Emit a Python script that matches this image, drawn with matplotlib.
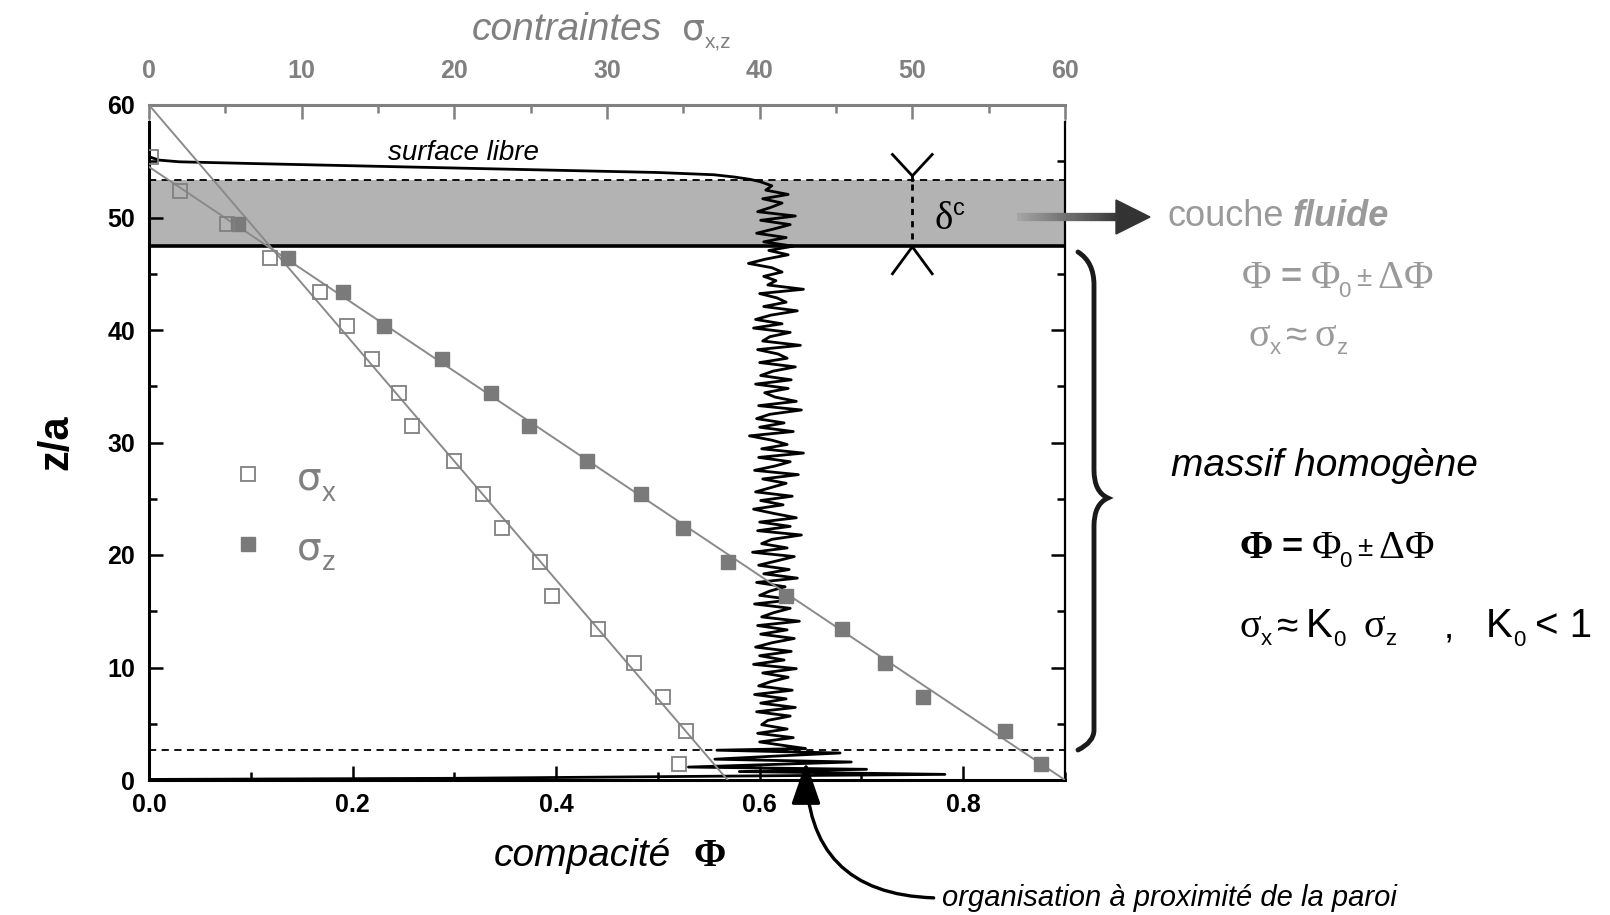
import numpy as np
import matplotlib
matplotlib.use('Agg')
import matplotlib.pyplot as plt
from matplotlib.path import Path
from matplotlib.patches import PathPatch, Polygon
from matplotlib.collections import LineCollection
from matplotlib.ticker import MultipleLocator

# --- stress profiles (top axis, contraintes) vs depth z/a ---
z_sx = [55.4, 52.4, 49.4, 46.4, 43.4, 40.4, 37.4, 34.4, 31.5, 28.4,
        25.4, 22.4, 19.4, 16.4, 13.4, 10.4, 7.4, 4.4, 1.4]
sigma_x = [0.1, 2.0, 5.1, 7.9, 11.2, 13.0, 14.6, 16.4, 17.2, 20.0,
           21.9, 23.1, 25.6, 26.4, 29.4, 31.8, 33.7, 35.2, 34.7]

z_sz = [49.4, 46.4, 43.4, 40.4, 37.4, 34.4, 31.5, 28.4, 25.4, 22.4,
        19.4, 16.4, 13.4, 10.4, 7.4, 4.4, 1.4]
sigma_z = [5.8, 9.1, 12.7, 15.4, 19.2, 22.4, 24.9, 28.7, 32.2, 35.0,
           37.9, 41.7, 45.4, 48.2, 50.7, 56.1, 58.4]

# linear fits (end points)
fit_x_sigma = [0.0, 37.9]
fit_x_z = [60.0, 0.0]
fit_z_sigma = [0.0, 60.0]
fit_z_z = [54.5, 0.0]

# --- packing fraction profile (bottom axis) ---
# free surface region
surf_z = [55.4, 55.1, 54.95, 54.8, 54.6, 54.4, 54.2, 54.0, 53.8, 53.6, 53.4]
surf_phi = [0.0, 0.01, 0.03, 0.10, 0.20, 0.30, 0.40, 0.50, 0.555, 0.575, 0.59]
# bulk oscillations, z from 53.2 down to 3.0
bulk_phi = [0.600, 0.612, 0.606, 0.628, 0.603, 0.622, 0.611, 0.598, 0.635, 0.601,
            0.630, 0.614, 0.597, 0.626, 0.604, 0.633, 0.609, 0.628, 0.606, 0.589,
            0.612, 0.622, 0.604, 0.616, 0.608, 0.643, 0.600, 0.617, 0.626, 0.604,
            0.637, 0.611, 0.596, 0.622, 0.594, 0.630, 0.610, 0.603, 0.640, 0.598,
            0.618, 0.627, 0.600, 0.635, 0.613, 0.601, 0.631, 0.596, 0.628, 0.605,
            0.615, 0.636, 0.599, 0.641, 0.610, 0.597, 0.624, 0.600, 0.633, 0.590,
            0.612, 0.627, 0.602, 0.643, 0.599, 0.630, 0.615, 0.595, 0.638, 0.603,
            0.626, 0.611, 0.596, 0.632, 0.601, 0.623, 0.594, 0.614, 0.636, 0.600,
            0.630, 0.598, 0.641, 0.612, 0.602, 0.627, 0.593, 0.634, 0.617, 0.599,
            0.629, 0.604, 0.637, 0.597, 0.625, 0.610, 0.600, 0.633, 0.595, 0.630,
            0.614, 0.602, 0.639, 0.598, 0.627, 0.601, 0.634, 0.612, 0.596, 0.631,
            0.600, 0.624, 0.594, 0.636, 0.603, 0.628, 0.611, 0.599, 0.632, 0.595,
            0.626, 0.601, 0.635, 0.597, 0.630, 0.608, 0.602, 0.627, 0.598, 0.633,
            0.600, 0.629]
bulk_z = np.linspace(53.2, 3.0, len(bulk_phi))
# wall layering near the bottom
wall_z = [2.8, 2.65, 2.4, 2.1, 1.85, 1.6, 1.35, 1.15, 0.95, 0.75, 0.5, 0.3, 0.15, 0.05]
wall_phi = [0.645, 0.558, 0.679, 0.610, 0.556, 0.690, 0.600, 0.530, 0.705, 0.580,
            0.782, 0.500, 0.300, 0.0]

band_low, band_high = 47.5, 53.3
wall_line = 2.65

GREY = '#808080'
LGREY = '#9a9a9a'
SANS = 'Liberation Sans'
SERIF = 'Liberation Serif'

W, H = 1610, 915
fig = plt.figure(figsize=(W / 100, H / 100), dpi=100)
fig.patch.set_facecolor('white')

ax = fig.add_axes([149 / W, 1 - 780 / H, (1065 - 149) / W, (780 - 105) / H])
ax.set_xlim(0, 0.9)
ax.set_ylim(0, 60)
axt = ax.twiny()
axt.set_xlim(0, 60)

# fluid layer band
ax.axhspan(band_low, band_high, color='#b3b3b3', zorder=0, lw=0)
ax.axhline(band_low, color='black', lw=2.6, zorder=2)
ax.axhline(band_high, color='black', lw=1.3, ls=(0, (4, 3)), zorder=2)
ax.axhline(wall_line, color='black', lw=1.3, ls=(0, (4, 3)), zorder=2)

# packing fraction profile
prof_phi = np.concatenate([surf_phi, bulk_phi, wall_phi])
prof_z = np.concatenate([surf_z, bulk_z, wall_z])
ax.plot(prof_phi, prof_z, color='black', lw=2.0, zorder=3, solid_joinstyle='round')

# stress data and fits
axt.plot(fit_x_sigma, fit_x_z, color='#8a8a8a', lw=1.4, zorder=4)
axt.plot(fit_z_sigma, fit_z_z, color='#8a8a8a', lw=1.4, zorder=4)
axt.plot(sigma_z, z_sz, ls='none', marker='s', ms=10.5, mfc='#7a7a7a', mec='#7a7a7a',
         zorder=5)
axt.plot(sigma_x, z_sx, ls='none', marker='s', ms=10.5, mfc='none', mec=GREY, mew=1.3,
         zorder=6)

# legend markers
axt.plot([6.5], [27.2], ls='none', marker='s', ms=10.5, mfc='none', mec=GREY, mew=1.3)
axt.plot([6.5], [21.0], ls='none', marker='s', ms=10.5, mfc='#7a7a7a', mec='#7a7a7a')

# delta_c marker
axt.plot([48.7, 50.0, 51.3], [55.6, 53.7, 55.6], color='black', lw=2.0, zorder=6)
axt.plot([50.0, 50.0], [53.7, 53.3], color='black', lw=2.0, zorder=6)
axt.plot([50.0, 50.0], [53.0, 47.9], color='black', lw=2.0, ls=(0, (2.2, 2.2)), zorder=6)
axt.plot([48.7, 50.0, 51.3], [45.0, 47.4, 45.0], color='black', lw=2.0, zorder=6)
axt.text(20.6, 55.7, 'surface libre', fontsize=20, style='italic', family=SANS,
         ha='center', va='center')

# axes styling
for a in (ax, axt):
    for s in a.spines.values():
        s.set_visible(False)
for side, lw in (('left', 2.2), ('bottom', 2.2), ('right', 1.6)):
    ax.spines[side].set_visible(True)
    ax.spines[side].set_linewidth(lw)
ax.spines['left'].set_bounds(0, 58.5)
ax.spines['right'].set_bounds(0, 58.5)
axt.spines['top'].set_visible(True)
axt.spines['top'].set_color(GREY)
axt.spines['top'].set_linewidth(2.2)
ax.plot([0, 0], [58.5, 60], color=GREY, lw=1.0, clip_on=False)
ax.plot([0.9, 0.9], [58.5, 60], color=GREY, lw=1.0, clip_on=False)

ax.xaxis.set_minor_locator(MultipleLocator(0.1))
ax.yaxis.set_major_locator(MultipleLocator(10))
ax.yaxis.set_minor_locator(MultipleLocator(5))
ax.set_xticks([0.0, 0.2, 0.4, 0.6, 0.8])
ax.set_xticklabels(['0.0', '0.2', '0.4', '0.6', '0.8'])
ax.tick_params(axis='both', which='major', direction='in', length=10, width=1.8,
               labelsize=18, pad=9)
ax.tick_params(axis='both', which='minor', direction='in', length=6, width=1.8)
ax.tick_params(axis='y', which='both', left=True, right=True, labelright=False, pad=10)
ax.tick_params(axis='x', which='both', top=False)

axt.xaxis.set_major_locator(MultipleLocator(10))
axt.xaxis.set_minor_locator(MultipleLocator(5))
axt.tick_params(axis='x', which='major', direction='in', length=10, width=1.8,
                color=GREY, labelcolor=GREY, labelsize=18, pad=16)
axt.tick_params(axis='x', which='minor', direction='in', length=6, width=1.8, color=GREY)

for lab in ax.get_xticklabels() + ax.get_yticklabels() + axt.get_xticklabels():
    lab.set_fontfamily(SANS)
    lab.set_fontweight('bold')

ax.set_ylabel('z/a', fontsize=30, fontweight='bold', family=SANS, labelpad=22)

# overlay in pixel coordinates for the annotations around the plot
ov = fig.add_axes([0, 0, 1, 1], zorder=10)
ov.set_xlim(0, W)
ov.set_ylim(H, 0)
ov.axis('off')
ov.patch.set_alpha(0)
renderer = fig.canvas.get_renderer()


def text_run(x, y, pieces):
    """Write pieces side by side on a common baseline: (text, style, dy, gap)."""
    for s, kw, dy, gap in pieces:
        t = ov.text(x, y + dy, s, va='baseline', ha='left', **kw)
        x += t.get_window_extent(renderer=renderer).width + gap
    return x


def sty(size, family=SANS, color='black', **kw):
    return dict(fontsize=size, family=family, color=color, **kw)


text_run(472, 40, [('contraintes', sty(28, style='italic', color=GREY), 0, 20),
                   ('σ', sty(26, 'DejaVu Sans', GREY), 0, 0),
                   ('x,z', sty(15, color=GREY), 8, 0)])

text_run(494, 866, [('compacité', sty(28, style='italic'), 0, 22),
                    ('Φ', sty(28, SERIF, fontweight='bold'), 0, 0)])

# legend labels
text_run(297, 490, [('σ', sty(28, 'DejaVu Sans', GREY), 0, 0),
                    ('x', sty(20, color=GREY), 11, 0)])
text_run(297, 559, [('σ', sty(28, 'DejaVu Sans', GREY), 0, 0),
                    ('z', sty(20, color=GREY), 11, 0)])

# delta_c label
text_run(934, 229, [('δ', sty(28, SERIF), 0, 1),
                    ('c', sty(17), -14, 0)])

# arrow to the fluid layer label
xs = np.linspace(1017, 1122, 40)
segs = [[(xs[i], 217), (xs[i + 1], 217)] for i in range(len(xs) - 1)]
cols = [plt.cm.Greys(0.45 + 0.4 * i / len(segs)) for i in range(len(segs))]
ov.add_collection(LineCollection(segs, colors=cols, linewidths=6))
ov.add_patch(Polygon([[1116, 200], [1150, 217], [1116, 234]], closed=True,
                     color='#333333'))
text_run(1167, 226, [('couche', sty(26, color=LGREY), 0, 9),
                     ('fluide', sty(26, color=LGREY, style='italic', fontweight='bold'), 0, 0)])


def phi_formula(x, y, color, bold_first):
    first = sty(29, SERIF, color, fontweight='bold' if bold_first else 'normal')
    return text_run(x, y, [('Φ', first, 0, 9),
                           ('=', sty(26, color=color, fontweight='bold'), 0, 9),
                           ('Φ', sty(29, SERIF, color), 0, -2),
                           ('0', sty(16, color=color), 9, 6),
                           ('±', sty(20, color=color), -2, 6),
                           ('Δ', sty(29, SERIF, color), 0, 0),
                           ('Φ', sty(29, SERIF, color), 0, 0)])


phi_formula(1242, 288, LGREY, False)
text_run(1248, 346, [('σ', sty(29, SERIF, LGREY), 0, 0),
                     ('x', sty(16, color=LGREY), 8, 5),
                     ('≈', sty(28, color=LGREY), 0, 7),
                     ('σ', sty(29, SERIF, LGREY), 0, 0),
                     ('z', sty(16, color=LGREY), 8, 0)])

# brace over the homogeneous region
brace = Path([(1078, 252), (1094, 262), (1094, 285), (1094, 300),
              (1094, 470), (1094, 492), (1108, 498),
              (1094, 504), (1094, 526),
              (1094, 700), (1094, 730), (1094, 742), (1078, 750)],
             [Path.MOVETO, Path.CURVE3, Path.CURVE3, Path.LINETO,
              Path.LINETO, Path.CURVE3, Path.CURVE3,
              Path.CURVE3, Path.CURVE3,
              Path.LINETO, Path.LINETO, Path.CURVE3, Path.CURVE3])
ov.add_patch(PathPatch(brace, fill=False, lw=3.5, color='#1a1a1a', capstyle='round'))

ov.text(1171, 466, 'massif homogène', fontsize=28, style='italic', family=SANS,
        va='center', ha='left')
phi_formula(1239, 558, 'black', True)
text_run(1239, 637, [('σ', sty(29, SERIF), 0, 0),
                     ('x', sty(16), 8, 5),
                     ('≈', sty(28), 0, 8),
                     ('K', sty(29), 0, 0),
                     ('0', sty(16), 9, 18),
                     ('σ', sty(29, SERIF), 0, 0),
                     ('z', sty(16), 8, 48),
                     (',', sty(26), 0, 32),
                     ('K', sty(29), 0, 0),
                     ('0', sty(16), 9, 10),
                     ('< 1', sty(29), 0, 0)])

# wall ordering annotation
ov.annotate('organisation à proximité de la paroi', xy=(806, 762), xytext=(942, 898),
            fontsize=21, style='italic', family=SANS, va='center', ha='left',
            arrowprops=dict(arrowstyle='-|>,head_length=1.3,head_width=0.45',
                            connectionstyle='angle3,angleA=0,angleB=90',
                            color='black', lw=2.4, shrinkA=4, shrinkB=0,
                            mutation_scale=20, relpos=(0, 0.5)))

fig.savefig('out.png', dpi=100, facecolor='white')
